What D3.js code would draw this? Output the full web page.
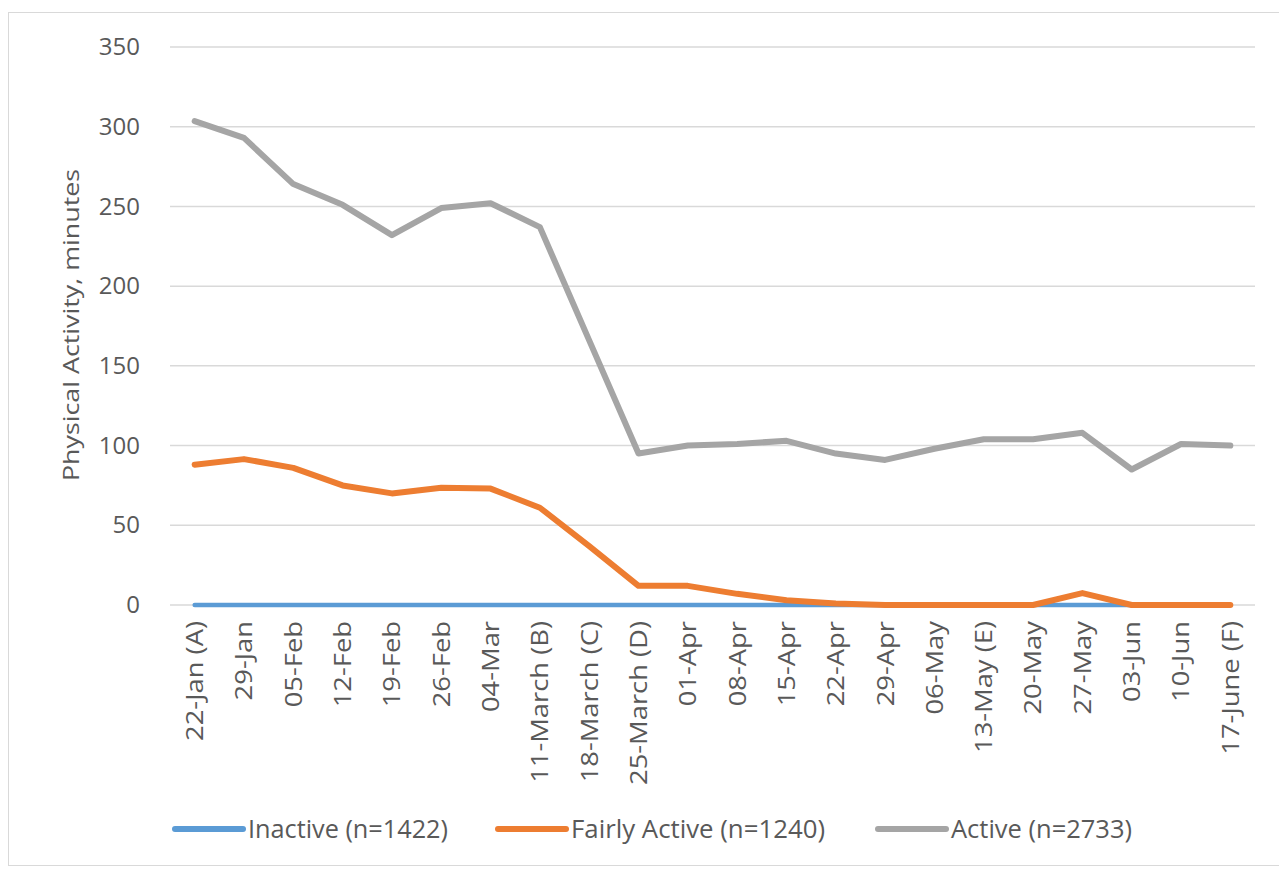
<!DOCTYPE html>
<html>
<head>
<meta charset="utf-8">
<script src="https://cdn.jsdelivr.net/npm/d3@7"></script>
<style>
  body { margin: 0; background: #fff; }
  text { font-family: "Open Sans", sans-serif; fill: #595959; }
</style>
</head>
<body>
<script>
var dates = ["22-Jan (A)", "29-Jan", "05-Feb", "12-Feb", "19-Feb", "26-Feb", "04-Mar",
  "11-March (B)", "18-March (C)", "25-March (D)", "01-Apr", "08-Apr", "15-Apr", "22-Apr",
  "29-Apr", "06-May", "13-May (E)", "20-May", "27-May", "03-Jun", "10-Jun", "17-June (F)"]

var inactive = [0, 0, 0, 0, 0, 0, 0, 0, 0, 0, 0, 0, 0, 0, 0, 0, 0, 0, 0, 0, 0, 0]
var fairlyActive = [88, 91.5, 86, 75, 70, 73.5, 73, 61, 37, 12, 12, 7, 3, 1, 0, 0, 0, 0, 7.5, 0, 0, 0]
var active = [303.5, 293, 264, 251, 232, 249, 252, 237, 166, 95, 100, 101, 103, 95, 91, 98, 104, 104, 108, 85, 101, 100]

var yTicks = [0, 50, 100, 150, 200, 250, 300, 350]

var series = [
  { name: "Inactive (n=1422)", values: inactive, color: "#5B9BD5" },
  { name: "Fairly Active (n=1240)", values: fairlyActive, color: "#ED7D31" },
  { name: "Active (n=2733)", values: active, color: "#A5A5A5" }
]

var width = 1279, height = 869
var plotLeft = 170, plotRight = 1255, plotTop = 47, plotBottom = 605

var svg = d3.select("body").append("svg")
  .attr("width", width)
  .attr("height", height)

// chart frame
svg.append("rect")
  .attr("x", 8.5).attr("y", 12.5)
  .attr("width", 1300).attr("height", 853)
  .attr("fill", "none")
  .attr("stroke", "#D9D9D9")
  .attr("stroke-width", 1)

var x = d3.scaleBand().domain(dates).range([plotLeft, plotRight])
var y = d3.scaleLinear().domain([0, 350]).range([plotBottom, plotTop])

// gridlines
svg.append("g").selectAll("line")
  .data(yTicks)
  .enter().append("line")
  .attr("x1", plotLeft).attr("x2", plotRight)
  .attr("y1", function(d) { return y(d) }).attr("y2", function(d) { return y(d) })
  .attr("stroke", "#D9D9D9")
  .attr("stroke-width", 1.5)

// y axis labels
var yAxis = svg.append("g")
  .attr("transform", "translate(" + (plotLeft - 30) + ",0)")
  .call(d3.axisLeft(y).tickValues(yTicks).tickSize(0).tickPadding(0))
yAxis.select(".domain").remove()
yAxis.selectAll("text")
  .style("font-size", "24px")
  .attr("fill", "#595959")

// x axis labels, stretched along their length like the source
var xAxis = svg.append("g")
  .attr("transform", "translate(0," + plotBottom + ")")
  .call(d3.axisBottom(x).tickSize(0))
xAxis.select(".domain").remove()
xAxis.selectAll("text")
  .style("font-size", "24px")
  .attr("fill", "#595959")
  .attr("text-anchor", "end")
  .attr("dy", "0.35em")
  .attr("transform", "translate(0,16) rotate(-90) scale(1.14,1)")
  .attr("x", 0).attr("y", 0)

svg.append("text")
  .attr("transform", "translate(79," + 325 + ") rotate(-90) scale(1.22,1)")
  .attr("text-anchor", "middle")
  .style("font-size", "22px")
  .text("Physical Activity, minutes")

var line = d3.line()
  .x(function(d, i) { return x(dates[i]) + x.bandwidth() / 2 })
  .y(function(d) { return y(d) })

svg.append("g").selectAll("path")
  .data(series)
  .enter().append("path")
  .attr("d", function(s) { return line(s.values) })
  .attr("fill", "none")
  .attr("stroke", function(s) { return s.color })
  .attr("stroke-width", function(s, i) { return i === 0 ? 4.5 : 6 })
  .attr("stroke-linejoin", "round")
  .attr("stroke-linecap", "round")

// legend
var legendX = [175, 498, 878]
var legendW = [200, 254, 181]
var legend = svg.append("g").selectAll("g")
  .data(series)
  .enter().append("g")
  .attr("transform", function(d, i) { return "translate(" + legendX[i] + ",829)" })

legend.append("line")
  .attr("x1", 0).attr("x2", 68)
  .attr("stroke", function(d) { return d.color })
  .attr("stroke-width", 6)
  .attr("stroke-linecap", "round")

legend.append("text")
  .attr("x", 73)
  .attr("dy", "0.35em")
  .style("font-size", "26px")
  .attr("textLength", function(d, i) { return legendW[i] })
  .attr("lengthAdjust", "spacingAndGlyphs")
  .text(function(d) { return d.name })
</script>
</body>
</html>
